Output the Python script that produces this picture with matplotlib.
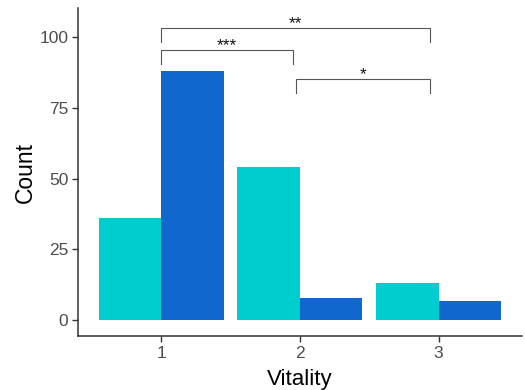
import matplotlib
matplotlib.use("Agg")
import matplotlib.pyplot as plt
import numpy as np

plt.rcParams['font.family'] = ['Liberation Sans', 'DejaVu Sans']

categories = [1, 2, 3]
group_a = [36, 54, 13]   # cyan
group_b = [88, 8, 7]     # blue
colors = ['#00CDCD', '#1067CE']

# significance brackets: (x_start, x_end, y_top, label)
sig_x1 = [1.0, 1.0, 1.975]
sig_x2 = [2.94, 1.95, 2.94]
sig_y = [103.1, 95.4, 85.2]
sig_labels = ['**', '***', '*']
tick_drop = 5.0

fig = plt.figure(figsize=(5.25, 3.9), dpi=100)
ax = fig.add_axes([0.1486, 0.1385, 0.8451, 0.8402])

x = np.array(categories, dtype=float)
w = 0.45
ax.bar(x - w/2, group_a, width=w, color=colors[0], edgecolor='none')
ax.bar(x + w/2, group_b, width=w, color=colors[1], edgecolor='none')

for x1, x2, y, lab in zip(sig_x1, sig_x2, sig_y, sig_labels):
    ax.plot([x1, x1, x2, x2], [y - tick_drop, y, y, y - tick_drop],
            color='#555555', lw=0.8, solid_joinstyle='miter')
    ax.text((x1 + x2) / 2, y - 0.2, lab, ha='center', va='baseline',
            fontsize=12.5, color='#111111')

ax.set_xlim(0.4, 3.6)
ax.set_ylim(-5.5, 110)
ax.set_xticks(categories)
ax.set_xticklabels([str(c) for c in categories])
ax.set_yticks([0, 25, 50, 75, 100])

for s in ['top', 'right']:
    ax.spines[s].set_visible(False)
for s in ['left', 'bottom']:
    ax.spines[s].set_color('#333333')
    ax.spines[s].set_linewidth(1.1)

ax.tick_params(axis='both', colors='#333333', length=4, width=1.0,
               labelsize=12.5, labelcolor='#4D4D4D', pad=3)

ax.set_xlabel('Vitality', fontsize=16, color='black', labelpad=6)
ax.set_ylabel('Count', fontsize=16.5, color='black', labelpad=2)

fig.savefig('out.png', dpi=100)
